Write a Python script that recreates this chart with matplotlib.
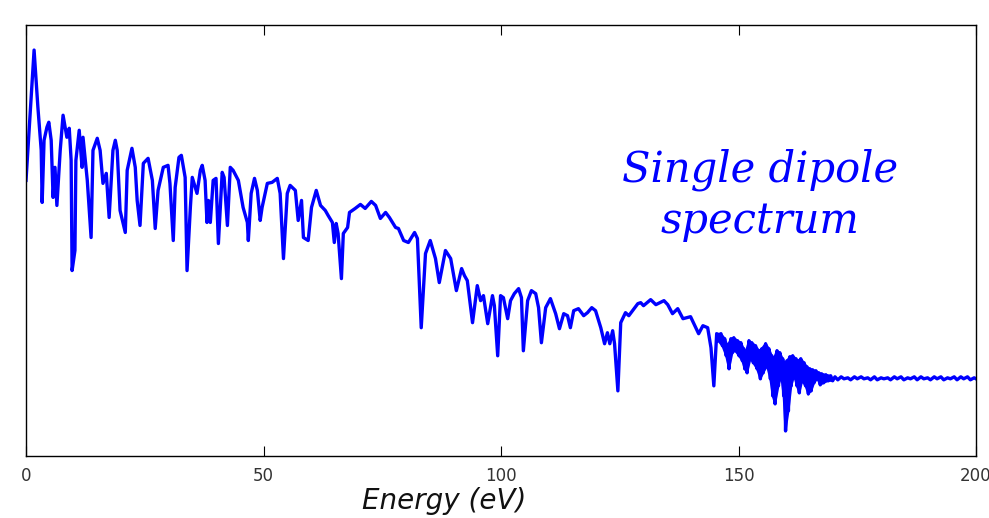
import matplotlib.pyplot as plt
import numpy as np

# energy (eV) and spectrum height (arbitrary units)
energy_main = [0.0, 1.7, 2.5, 3.2, 3.4, 3.8, 4.4, 4.8, 5.3, 5.7, 6.1, 6.5, 7.2, 7.8, 8.6, 9.1,
               9.5, 9.7, 10.3, 10.5, 11.2, 11.8, 12.0, 12.9, 13.7, 14.1, 15.0, 15.6, 16.2, 16.9,
               17.5, 18.3, 18.8, 19.2, 19.8, 20.9, 21.3, 22.3, 23.0, 23.4, 24.0, 24.7, 25.7, 26.6,
               27.2, 27.8, 28.9, 29.9, 30.3, 31.0, 31.4, 32.2, 32.7, 33.5, 33.9, 34.6, 35.0, 36.0,
               36.7, 37.1, 37.7, 38.1, 38.4, 38.8, 39.4, 40.0, 40.5, 41.3, 41.7, 42.4, 43.0, 43.6,
               44.7, 45.7, 46.6, 46.8, 47.4, 48.1, 48.7, 49.3, 49.7, 50.8, 51.8, 52.9, 53.5, 54.2,
               55.0, 55.6, 56.7, 57.3, 58.0, 58.4, 59.4, 60.1, 61.1, 62.0, 63.0, 63.6, 64.5, 64.9,
               65.3, 65.7, 66.4, 66.8, 67.7, 68.1, 68.7, 69.3, 70.4, 71.4, 72.7, 73.6, 74.6, 75.7,
               76.5, 77.8, 78.4, 79.5, 80.5, 81.8, 82.4, 83.2, 84.1, 85.1, 86.2, 87.0, 88.3, 89.4,
               90.6, 91.7, 92.3, 92.9, 94.0, 95.0, 95.7, 96.3, 97.2, 98.2, 98.6, 99.3, 99.9, 100.5,
               101.4, 102.0, 102.8, 103.7, 104.3, 104.7, 105.6, 106.4, 107.3, 107.9, 108.5, 109.4,
               110.4, 111.5, 112.3, 113.2, 114.0, 114.6, 115.3, 116.3, 117.4, 118.2, 119.1, 119.9,
               121.0, 121.8, 122.4, 122.9, 123.5, 123.9, 124.6, 125.2, 126.2, 126.9, 127.7, 128.8,
               129.4, 130.0, 131.5, 132.6, 134.3, 135.1, 136.1, 137.2, 138.3, 139.9, 140.6, 141.6,
               142.5, 143.5, 144.2, 144.8]
signal_main = [275, 405, 348, 305, 253, 315, 328, 333, 315, 258, 288, 250, 305, 340, 318, 327,
               295, 185, 205, 295, 325, 288, 318, 275, 218, 305, 317, 305, 272, 282,
               238, 305, 315, 305, 245, 223, 285, 307, 288, 255, 230, 292, 297, 275,
               227, 265, 288, 290, 272, 215, 268, 298, 300, 278, 185, 248, 278, 262,
               285, 290, 275, 233, 255, 233, 275, 277, 212, 283, 278, 230, 288, 285,
               275, 248, 233, 215, 262, 277, 265, 235, 248, 272, 273, 277, 262, 197,
               262, 270, 265, 235, 255, 218, 215, 248, 265, 250, 245, 240, 233, 213,
               232, 222, 177, 222, 228, 243, 245, 247, 251, 247, 254, 250, 237, 243,
               238, 228, 227, 215, 213, 223, 217, 128, 202, 215, 197, 173, 205, 197,
               165, 187, 180, 175, 133, 170, 155, 160, 132, 160, 150, 100, 160, 158,
               137, 155, 162, 167, 158, 105, 155, 165, 162, 148, 113, 148,
               157, 142, 127, 142, 140, 128, 145, 147, 140, 143, 148, 145,
               128, 112, 123, 112, 125, 112, 65, 133, 143, 140, 145, 152,
               153, 150, 156, 151, 155, 151, 142, 147, 137, 139, 132, 122,
               130, 128, 108, 70]

# fast oscillating part near the end: upper / lower edge, alternating
energy_band = [145.4, 145.7, 146.3, 146.6, 147.1, 147.4, 147.7, 148.0, 148.4, 148.7, 149.0, 149.3,
               149.8, 150.1, 150.5, 150.8, 151.1, 151.3, 151.5, 151.8, 152.2, 152.5, 152.8, 153.1,
               153.6, 153.9, 154.3, 154.6, 154.9, 155.2, 155.7, 156.0, 156.4, 156.7, 157.0, 157.2,
               157.4, 157.7, 158.1, 158.4, 158.7, 159.0, 159.3, 159.5, 159.7, 159.9, 160.2, 160.5,
               160.8, 161.1, 161.4, 161.7, 162.1, 162.3, 162.5, 162.8, 163.1, 163.4, 163.8, 164.1,
               164.4, 164.7, 165.0, 165.3, 165.6, 165.9, 166.3, 166.6, 166.9, 167.2, 167.5, 167.9,
               168.4, 168.9, 169.4, 169.8]
signal_band = [122, 115, 122, 110, 117, 100, 110, 87, 117, 103, 118, 105,
               115, 100, 113, 95, 107, 87, 103, 83, 115, 97, 113, 93,
               110, 87, 105, 77, 107, 83, 112, 90, 107, 77, 100, 60,
               97, 52, 105, 70, 103, 80, 97, 60, 93, 25, 95, 45,
               99, 70, 100, 80, 97, 70, 95, 63, 97, 75, 93, 70,
               89, 62, 87, 65, 86, 73, 85, 77, 83, 71, 82, 73,
               81, 75, 80, 75]

# flat noisy tail
energy_tail = [170.3, 170.9, 171.6, 172.2, 173.0, 173.6, 174.4, 175.0, 175.8, 176.4, 177.2, 177.8,
               178.6, 179.2, 180.0, 180.6, 181.4, 182.0, 182.8, 183.4, 184.2, 184.8, 185.6, 186.2,
               187.0, 187.6, 188.4, 189.0, 189.8, 190.4, 191.2, 191.8, 192.6, 193.2, 194.0, 194.6,
               195.4, 196.0, 196.8, 197.4, 198.2, 198.8, 199.6, 200.0]
signal_tail = [79, 76, 79, 77, 78, 76, 79, 77, 79, 77, 78, 76,
               79, 76, 78, 77, 78, 76, 79, 77, 79, 76, 78, 77,
               79, 76, 79, 77, 78, 76, 79, 77, 79, 76, 78, 77,
               79, 76, 79, 77, 79, 76, 78, 77]

xticks = [0, 50, 100, 150, 200]

energy = np.array(energy_main + energy_band + energy_tail)
signal = np.array(signal_main + signal_band + signal_tail)

fig = plt.figure(figsize=(9.89, 5.18), dpi=100)
ax = fig.add_axes([0.0263, 0.1197, 0.9606, 0.832])

blue = '#0000ff'
ax.plot(energy, signal, color=blue, lw=2.4, solid_joinstyle='round')

# the oscillations are too fast to resolve: fill between upper and lower edge
band_e = np.array(energy_band)
band_s = np.array(signal_band)
poly_x = np.concatenate([band_e[0::2], band_e[1::2][::-1]])
poly_y = np.concatenate([band_s[0::2], band_s[1::2][::-1]])
ax.fill(poly_x, poly_y, color=blue, lw=1.5, ec=blue)

ax.set_xlim(0, 200)
ax.set_ylim(0, 430)
ax.set_xticks(xticks)
ax.set_yticks([])
ax.tick_params(axis='x', direction='in', top=True, length=7, width=0.8,
               labelsize=12, labelcolor='#333333', pad=8)
for s in ax.spines.values():
    s.set_linewidth(1.0)

ax.set_xlabel('Energy (eV)', fontsize=20, style='italic', color='#111111')
ax.xaxis.set_label_coords(0.44, -0.072)

ax.text(0.773, 0.605, 'Single dipole\nspectrum', transform=ax.transAxes,
        ha='center', va='center', fontsize=30, color=blue,
        family='DejaVu Serif', style='italic', linespacing=1.3)

plt.savefig('out.png', dpi=100)
